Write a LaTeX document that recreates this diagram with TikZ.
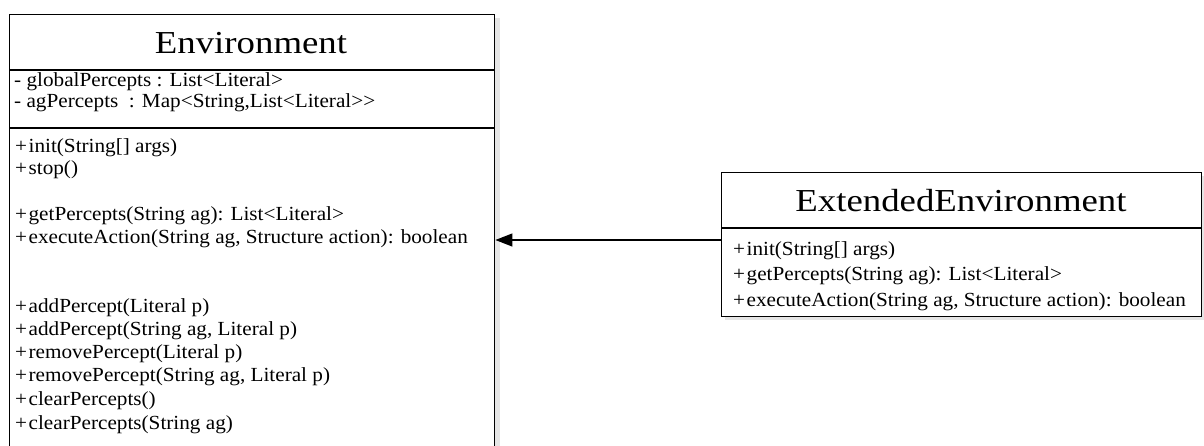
\documentclass[tikz,border=0pt]{standalone}
\usepackage{fontspec}
\setmainfont{Liberation Serif}
\newfontfamily\titlefont{Liberation Serif}[FakeStretch=1.15]
\newfontfamily\memberfont{Liberation Serif}[FakeStretch=1.06]
\usetikzlibrary{arrows.meta}
\newcommand{\pl}{+\kern1.5pt}
\tikzset{
  classbox/.style={draw=black, line width=1.4pt, fill=white, inner sep=0pt, anchor=north west},
  boxshadow/.style={fill=black!10, draw=none},
  classtitle/.style={font=\titlefont\fontsize{32}{36}\selectfont, anchor=base, inner sep=0pt},
  member/.style={font=\memberfont\fontsize{20}{23}\selectfont, anchor=base west, inner sep=0pt},
  sepline/.style={line width=1.4pt},
  thicksep/.style={line width=2.2pt},
  inherit/.style={line width=1.2pt, -{Triangle[length=17pt,width=13pt]}}
}
\begin{document}
\begin{tikzpicture}[x=1pt,y=-1pt]
\useasboundingbox (0,0) rectangle (1204,445);
\fill[white] (0,0) rectangle (1204,445);

% ---------- Environment ----------
\fill[boxshadow] (13,18) rectangle (500,460);
\node[classbox, minimum width=485pt, minimum height=445pt] (env) at (9,14) {};
\coordinate (e1) at (0,70);
\coordinate (e2) at (0,128);
\draw[sepline] (env.west |- e1) -- (env.east |- e1);
\draw[thicksep] (env.west |- e2) -- (env.east |- e2);
\node[classtitle] (envt) at (251,53) {Environment};

\node[member] (ea1) at (14,86) {- globalPercepts : List<Literal>};
\node[member] (ea2) at (14,107) {- agPercepts\ \ : Map<String,List<Literal>{}>};

\node[member] (em1) at (15,152) {\pl init(String[] args)};
\node[member] (em2) at (15,174) {\pl stop()};
\node[member] (em3) at (15,220) {\pl getPercepts(String ag): List<Literal>};
\node[member] (em4) at (15,243) {\pl executeAction(String ag, Structure action): boolean};
\node[member] (em5) at (15,312) {\pl addPercept(Literal p)};
\node[member] (em6) at (15,335) {\pl addPercept(String ag, Literal p)};
\node[member] (em7) at (15,358) {\pl removePercept(Literal p)};
\node[member] (em8) at (15,381) {\pl removePercept(String ag, Literal p)};
\node[member] (em9) at (15,405) {\pl clearPercepts()};
\node[member] (em10) at (15,429) {\pl clearPercepts(String ag)};

% ---------- ExtendedEnvironment ----------
\fill[boxshadow] (725,176) rectangle (1204,320);
\node[classbox, minimum width=480pt, minimum height=144pt] (ext) at (721,172) {};
\coordinate (x1) at (0,228);
\draw[thicksep] (ext.west |- x1) -- (ext.east |- x1);
\node[classtitle] (extt) at (961,211) {ExtendedEnvironment};

\node[member] (xm1) at (733,255) {\pl init(String[] args)};
\node[member] (xm2) at (733,280) {\pl getPercepts(String ag): List<Literal>};
\node[member] (xm3) at (733,306) {\pl executeAction(String ag, Structure action): boolean};

% ---------- inheritance ----------
\coordinate (ay) at (0,240);
\draw[inherit] (ext.west |- ay) -- (env.east |- ay);
\end{tikzpicture}
\end{document}
